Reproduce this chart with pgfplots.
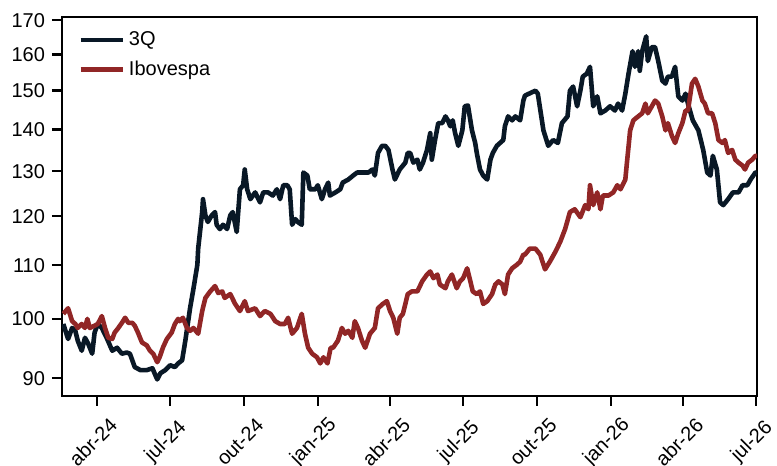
\documentclass[border=0pt]{standalone}
\usepackage{fontspec}
\setmainfont{Liberation Sans}
\usepackage{pgfplots}
\pgfplotsset{compat=1.18}

\definecolor{navy3q}{RGB}{9,24,38}
\definecolor{ibovred}{RGB}{145,38,38}

% x = dias desde 01/01/2024
\begin{document}
\begin{tikzpicture}
	\pgfplotsset{/tikz/font={\fontsize{10}{12}\selectfont}}
	\begin{axis}[
			scale only axis,
			width=347.5pt,
			height=189.5pt,
			ymode=log,
			xmin=47.4, xmax=913,
			ymin=87.2, ymax=171,
			ytick={90,100,110,120,130,140,150,160,170},
			yticklabels={90,100,110,120,130,140,150,160,170},
			minor ytick={},
			xtick={91,182,274,366,456,547,639,731,821,912},
			xticklabels={abr-24,jul-24,out-24,jan-25,abr-25,jul-25,out-25,jan-26,abr-26,jul-26},
			xtick pos=bottom,
			ytick pos=left,
			tick align=outside,
			major tick length=5pt,
			every tick/.style={black, line width=1.2pt},
			axis line style={line width=1.2pt},
			xticklabel style={yshift=-18pt, xshift=-2pt, rotate=45, anchor=center},
			/pgf/number format/assume math mode=true,
			legend style={draw=none, fill=none, at={(0.023,0.9)}, anchor=west,
				inner sep=0pt, row sep=2pt, nodes={inner sep=2pt}},
			legend cell align=left,
			legend image code/.code={\draw[#1] (0pt,0pt) -- (21pt,0pt);},
		]
		\coordinate (bl) at (rel axis cs:0,0);
		\coordinate (tr) at (rel axis cs:1,1);

		\addplot [navy3q, line width=2.3pt, line join=round] table {
		49 99.1
		55 96.5
		60 98.4
		64 97.9
		67 96.2
		72 94.5
		76 96.7
		80 95.7
		85 94.0
		88 97.6
		92 99.1
		97 98.4
		103 96.7
		110 94.5
		116 95.0
		122 94.0
		128 94.2
		132 94.0
		138 91.8
		145 91.3
		153 91.3
		160 91.6
		166 89.8
		170 90.8
		176 91.3
		182 92.1
		188 91.8
		192 92.4
		197 92.9
		201 96.2
		207 102.0
		211 105.4
		216 110.1
		217 113.3
		222 120.9
		223 123.7
		226 120.2
		229 118.8
		234 120.2
		238 120.9
		240 118.2
		244 117.3
		248 118.2
		253 117.3
		257 120.2
		260 120.9
		265 116.7
		269 125.9
		273 126.8
		275 130.4
		278 125.9
		282 123.7
		288 125.2
		294 123.0
		298 125.2
		304 125.2
		310 124.5
		315 125.9
		319 123.7
		323 126.8
		328 126.8
		331 125.9
		334 118.2
		338 119.4
		341 118.8
		346 118.2
		348 129.7
		353 129.0
		356 125.9
		363 125.9
		366 126.8
		371 123.7
		375 125.9
		379 127.4
		381 124.5
		388 125.2
		394 125.9
		397 127.4
		404 128.1
		410 129.0
		415 129.7
		419 129.7
		422 129.7
		429 129.7
		434 130.4
		437 129.0
		441 134.3
		446 136.0
		450 136.0
		454 135.0
		459 130.4
		462 128.1
		468 130.4
		475 132.0
		478 134.3
		481 134.3
		485 132.0
		490 132.7
		493 130.4
		497 132.0
		502 135.0
		506 139.1
		508 132.7
		512 137.4
		516 141.6
		521 141.6
		525 143.3
		528 142.3
		531 140.8
		534 142.3
		537 139.1
		541 136.0
		546 139.8
		549 145.9
		553 146.1
		558 139.8
		562 136.7
		564 134.3
		568 130.4
		572 129.0
		577 128.1
		581 132.7
		584 134.3
		589 136.0
		593 136.7
		597 137.4
		599 140.8
		603 143.3
		608 142.3
		612 143.3
		618 142.3
		622 147.4
		624 148.7
		637 150.0
		640 149.2
		647 139.8
		653 136.0
		659 137.4
		665 136.7
		670 141.6
		677 143.3
		680 150.0
		684 151.1
		689 145.9
		693 150.0
		696 153.8
		701 154.6
		705 156.5
		709 145.9
		714 148.5
		718 144.1
		724 144.8
		730 145.9
		736 144.8
		740 146.6
		745 144.8
		749 149.2
		753 154.6
		758 160.9
		761 156.5
		765 160.9
		767 155.4
		770 160.9
		775 165.2
		777 158.1
		782 162.1
		786 162.1
		790 158.1
		795 152.7
		799 151.9
		802 153.8
		807 153.8
		811 156.5
		815 148.5
		820 147.4
		824 149.2
		827 146.6
		833 142.3
		840 139.8
		846 135.0
		851 129.7
		855 129.0
		858 133.6
		863 130.4
		867 123.0
		871 122.4
		877 123.7
		883 125.2
		890 125.2
		895 126.8
		901 126.8
		905 128.1
		911 129.7
		913 129.2
		};
		\addlegendentry{3Q}

		\addplot [ibovred, line width=2.3pt, line join=round] table {
		49 100.9
		55 101.9
		60 99.6
		64 99.1
		67 98.4
		72 99.1
		76 98.4
		79 100.0
		82 98.4
		88 98.8
		92 99.1
		97 100.5
		101 98.4
		105 96.7
		110 96.5
		113 97.6
		117 98.3
		122 99.3
		126 100.2
		130 99.3
		135 99.3
		138 98.8
		142 97.6
		147 95.9
		153 95.4
		157 94.5
		161 94.0
		166 92.6
		169 93.4
		173 95.0
		178 96.5
		184 97.6
		188 99.1
		192 100.0
		194 99.6
		198 100.2
		203 98.4
		207 97.9
		211 98.4
		217 97.4
		222 101.4
		226 103.8
		232 105.0
		238 106.0
		242 104.7
		247 105.0
		250 103.8
		257 104.5
		263 102.7
		269 101.4
		275 103.2
		279 101.4
		288 101.9
		294 100.5
		300 101.4
		307 100.9
		313 99.6
		319 99.1
		325 99.1
		329 100.2
		334 97.4
		340 98.4
		346 100.9
		350 97.4
		354 95.0
		359 94.0
		365 93.4
		369 92.4
		373 93.4
		378 92.4
		382 95.0
		385 95.0
		391 96.2
		396 98.4
		400 97.4
		404 97.9
		409 96.7
		412 99.6
		416 98.4
		421 96.2
		425 95.0
		431 97.4
		437 98.4
		441 101.9
		447 102.7
		452 103.2
		456 101.4
		460 100.2
		465 97.4
		468 100.2
		472 100.9
		478 104.5
		483 105.0
		490 105.0
		496 106.9
		502 108.2
		506 108.8
		510 107.5
		515 108.2
		518 106.3
		525 105.6
		528 106.9
		533 108.2
		539 105.6
		543 106.9
		547 107.5
		552 109.4
		556 106.9
		559 105.0
		564 104.5
		568 105.0
		572 102.7
		577 103.2
		583 104.5
		587 106.3
		591 106.9
		596 106.3
		599 104.5
		603 108.2
		608 109.4
		614 110.1
		618 110.7
		622 112.1
		624 112.1
		630 113.3
		637 113.3
		643 112.1
		649 109.2
		655 110.7
		662 112.7
		668 114.7
		674 117.3
		680 120.9
		686 121.5
		693 119.8
		699 122.4
		703 121.5
		705 126.8
		709 122.4
		714 125.2
		718 121.5
		721 124.5
		728 124.5
		734 125.2
		739 126.8
		743 125.9
		749 128.1
		751 132.0
		755 139.8
		759 142.3
		765 143.3
		770 144.1
		774 146.6
		777 144.1
		782 145.9
		786 147.4
		790 146.6
		795 143.3
		799 139.8
		802 141.6
		807 138.4
		811 136.7
		815 139.1
		820 141.6
		824 144.8
		827 144.8
		832 151.9
		836 153.2
		840 151.1
		845 147.4
		848 146.6
		852 144.1
		857 144.1
		861 141.6
		865 137.4
		870 136.7
		873 137.4
		877 134.3
		882 135.0
		886 132.7
		890 132.0
		895 131.3
		898 130.4
		902 132.0
		907 132.7
		911 133.6
		913 133.6
		};
		\addlegendentry{Ibovespa}
	\end{axis}
	\pgfresetboundingbox
	\path ([shift={(-31pt,-34.5pt)}]bl) rectangle ([shift={(10pt,8.5pt)}]tr);
\end{tikzpicture}
\end{document}
